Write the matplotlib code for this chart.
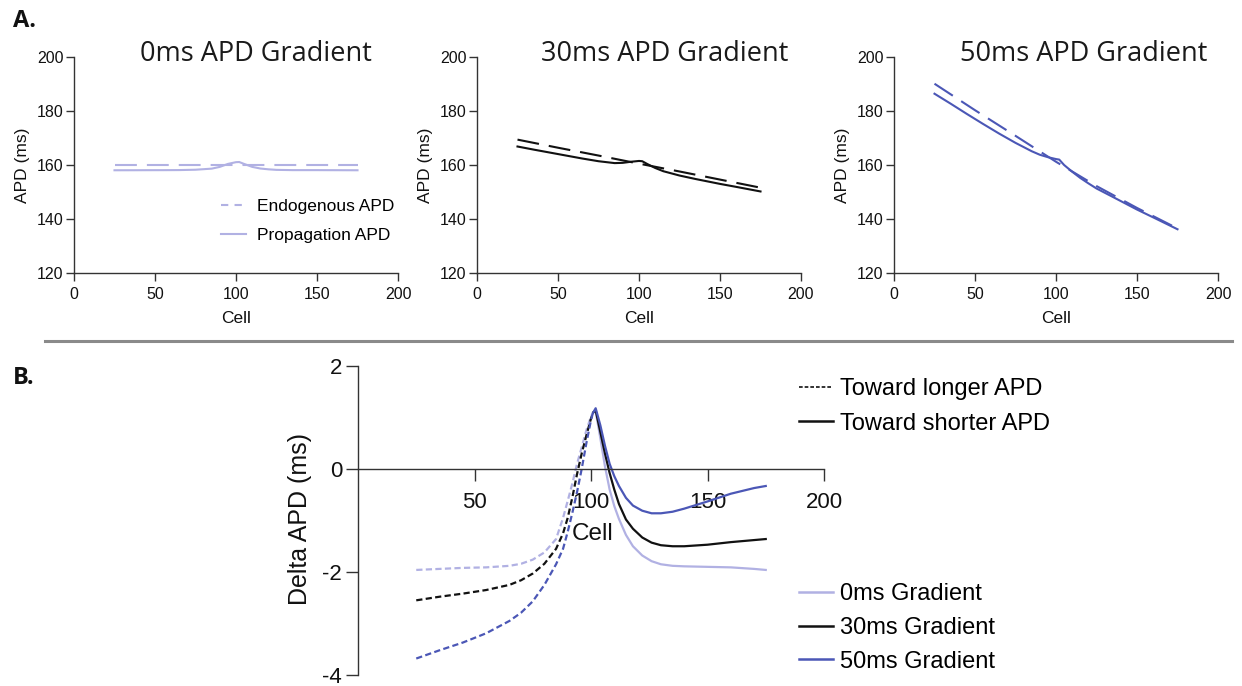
import matplotlib
matplotlib.use('Agg')
import matplotlib.pyplot as plt
from matplotlib.lines import Line2D

plt.rcParams['font.family'] = ['Liberation Sans', 'DejaVu Sans']
plt.rcParams['axes.unicode_minus'] = False

# ---------------- data ----------------
titles = ['0ms APD Gradient', '30ms APD Gradient', '50ms APD Gradient']

endo_cells = [25, 50, 75, 100, 125, 150, 175]
endo_0 = [160.0, 160.0, 160.0, 160.0, 160.0, 160.0, 160.0]
endo_30 = [169.4, 166.4, 163.5, 160.5, 157.6, 154.6, 151.6]
endo_50 = [190.1, 180.3, 170.8, 161.2, 152.2, 144.1, 136.5]

prop_cells = [25, 35, 45, 55, 65, 75, 85, 90, 95, 100, 102, 105, 110, 115, 120, 125, 135, 150, 160, 175]
prop_0 = [158.05, 158.06, 158.08, 158.09, 158.12, 158.25, 158.65, 159.3, 160.4, 161.05, 161.1, 160.4,
          159.3, 158.7, 158.4, 158.2, 158.1, 158.1, 158.08, 158.05]
prop_30 = [166.85, 165.7, 164.6, 163.5, 162.4, 161.4, 160.7, 160.8, 161.2, 161.5, 161.4, 160.4,
           158.9, 157.7, 156.9, 156.1, 154.8, 153.0, 151.9, 150.2]
prop_50 = [186.4, 182.7, 178.9, 175.2, 171.6, 168.2, 165.1, 163.8, 162.9, 162.2, 162.0, 160.0,
           157.5, 155.2, 153.2, 151.3, 148.2, 143.5, 140.6, 136.2]

# Panel B: delta APD
left_cells = [25, 35, 45, 55, 65, 70, 75, 80, 85, 88, 90, 92, 94, 96, 98, 100, 101]
dl_0 = [-1.96, -1.94, -1.92, -1.91, -1.88, -1.84, -1.76, -1.62, -1.36, -0.95, -0.62, -0.28, 0.10, 0.42, 0.75, 1.02, 1.10]
dl_30 = [-2.55, -2.48, -2.42, -2.35, -2.25, -2.16, -2.03, -1.84, -1.55, -1.25, -0.95, -0.55, -0.10, 0.30, 0.65, 0.98, 1.10]
dl_50 = [-3.68, -3.52, -3.37, -3.19, -2.95, -2.79, -2.57, -2.25, -1.85, -1.55, -1.22, -0.85, -0.45, 0.00, 0.50, 0.95, 1.12]

right_cells = [101, 102, 104, 106, 108, 110, 112, 115, 118, 122, 126, 130, 135, 140, 150, 160, 170, 175]
dr_0 = [1.10, 1.12, 0.60, 0.05, -0.40, -0.72, -0.97, -1.28, -1.50, -1.68, -1.79, -1.85, -1.88, -1.89, -1.90, -1.91, -1.94, -1.96]
dr_30 = [1.10, 1.14, 0.72, 0.30, -0.08, -0.40, -0.68, -0.98, -1.16, -1.33, -1.43, -1.48, -1.50, -1.50, -1.47, -1.42, -1.38, -1.36]
dr_50 = [1.10, 1.18, 0.85, 0.45, 0.10, -0.14, -0.33, -0.56, -0.71, -0.81, -0.86, -0.86, -0.83, -0.77, -0.63, -0.48, -0.37, -0.33]

grad_labels = ['0ms Gradient', '30ms Gradient', '50ms Gradient']
dir_labels = ['Toward longer APD', 'Toward shorter APD']

c_light = '#B1B1E3'
c_black = '#111111'
c_blue = '#4B57B6'
colors = [c_light, c_black, c_blue]
spine_c = '#333333'

# ---------------- figure ----------------
W, H = 1242, 686
fig = plt.figure(figsize=(W / 100, H / 100), dpi=100)


def add_ax(l, r, t, b):
    return fig.add_axes([l / W, 1 - b / H, (r - l) / W, (b - t) / H])


endos = [endo_0, endo_30, endo_50]
props = [prop_0, prop_30, prop_50]
lefts = [74, 477, 894]
title_cx = [256, 665, 1084]
dash_long = (0, (10.5, 4.8))

for i in range(3):
    ax = add_ax(lefts[i], lefts[i] + 324, 57, 273)
    ax.plot(endo_cells, endos[i], color=colors[i], lw=1.5, linestyle=dash_long)
    ax.plot(prop_cells, props[i], color=colors[i], lw=1.5)
    ax.set_xlim(0, 200)
    ax.set_ylim(120, 200)
    ax.set_xticks([0, 50, 100, 150, 200])
    ax.set_yticks([120, 140, 160, 180, 200])
    for s in ['top', 'right']:
        ax.spines[s].set_visible(False)
    for s in ['left', 'bottom']:
        ax.spines[s].set_color(spine_c)
        ax.spines[s].set_linewidth(1.0)
    ax.tick_params(axis='both', labelsize=11.5, colors=spine_c, labelcolor='#111111',
                   length=5.5, width=1.0)
    ax.tick_params(axis='x', pad=4.5)
    ax.tick_params(axis='y', pad=2)
    ax.set_xlabel('Cell', fontsize=12.5, color='#111111')
    ax.set_ylabel('APD (ms)', fontsize=12.5, color='#111111')
    ax.xaxis.set_label_coords(0.5, -0.175)
    ax.yaxis.set_label_coords(-0.137, 0.5)
    fig.text(title_cx[i] / W, 1 - 61 / H, titles[i], family='Open Sans', fontsize=19.5,
             ha='center', va='baseline', color='#1a1a1a')
    if i == 0:
        hs = [Line2D([], [], color=c_light, lw=1.5, linestyle=(0, (3.5, 3.0))),
              Line2D([], [], color=c_light, lw=1.5)]
        ax.legend(hs, ['Endogenous APD', 'Propagation APD'], frameon=False, fontsize=12.5,
                  loc='upper left', bbox_to_anchor=((221 - 74) / 324, (273 - 199) / 216),
                  handlelength=1.45, handletextpad=0.62, labelspacing=0.8,
                  borderpad=0, borderaxespad=0)

# panel letters
fig.text(13 / W, 1 - 27 / H, 'A.', family='Open Sans', fontweight='bold', fontsize=17,
         ha='left', va='baseline', color='#111111')
fig.text(13 / W, 1 - 384 / H, 'B.', family='Open Sans', fontweight='bold', fontsize=17,
         ha='left', va='baseline', color='#111111')

# separator
fig.add_artist(Line2D([45 / W, 1232 / W], [1 - 341 / H, 1 - 341 / H], color='#8a8a8a', lw=2.2,
                      transform=fig.transFigure))

# ---------------- panel B ----------------
axb = add_ax(358, 824, 366, 675)
dash_short = (0, (2.8, 1.5))
dls = [dl_0, dl_30, dl_50]
drs = [dr_0, dr_30, dr_50]
for i in range(3):
    axb.plot(left_cells, dls[i], color=colors[i], lw=1.6, linestyle=dash_short)
    axb.plot(right_cells, drs[i], color=colors[i], lw=1.6)
axb.set_xlim(0, 200)
axb.set_ylim(-4, 2)
axb.set_xticks([50, 100, 150, 200])
axb.set_yticks([-4, -2, 0, 2])
axb.spines['top'].set_visible(False)
axb.spines['right'].set_visible(False)
axb.spines['bottom'].set_position(('data', 0))
for s in ['left', 'bottom']:
    axb.spines[s].set_color(spine_c)
    axb.spines[s].set_linewidth(1.0)
axb.tick_params(axis='both', labelsize=16, colors=spine_c, labelcolor='#111111',
                length=8.5, width=1.0)
axb.tick_params(axis='x', pad=8)
axb.tick_params(axis='y', pad=3)
axb.set_xlabel('Cell', fontsize=17.5, color='#111111')
axb.set_ylabel('Delta APD (ms)', fontsize=18, color='#111111')
axb.xaxis.set_label_coords((593 - 358) / 466, (675 - 523) / 309)
axb.yaxis.set_label_coords((312 - 358) / 466, 0.505)

h_dir = [Line2D([], [], color=c_black, lw=1.2, linestyle=(0, (2.2, 1.2))),
         Line2D([], [], color=c_black, lw=1.8)]
leg1 = axb.legend(h_dir, dir_labels, frameon=False, fontsize=17, loc='upper left',
                  bbox_to_anchor=((799 - 358) / 466, (675 - 378) / 309),
                  handlelength=1.45, handletextpad=0.3, labelspacing=0.53,
                  borderpad=0, borderaxespad=0)
axb.add_artist(leg1)
h_grad = [Line2D([], [], color=c, lw=1.8) for c in colors]
axb.legend(h_grad, grad_labels, frameon=False, fontsize=17, loc='upper left',
           bbox_to_anchor=((799 - 358) / 466, (675 - 583) / 309),
           handlelength=1.45, handletextpad=0.3, labelspacing=0.5,
           borderpad=0, borderaxespad=0)

fig.savefig('out.png', dpi=100)
